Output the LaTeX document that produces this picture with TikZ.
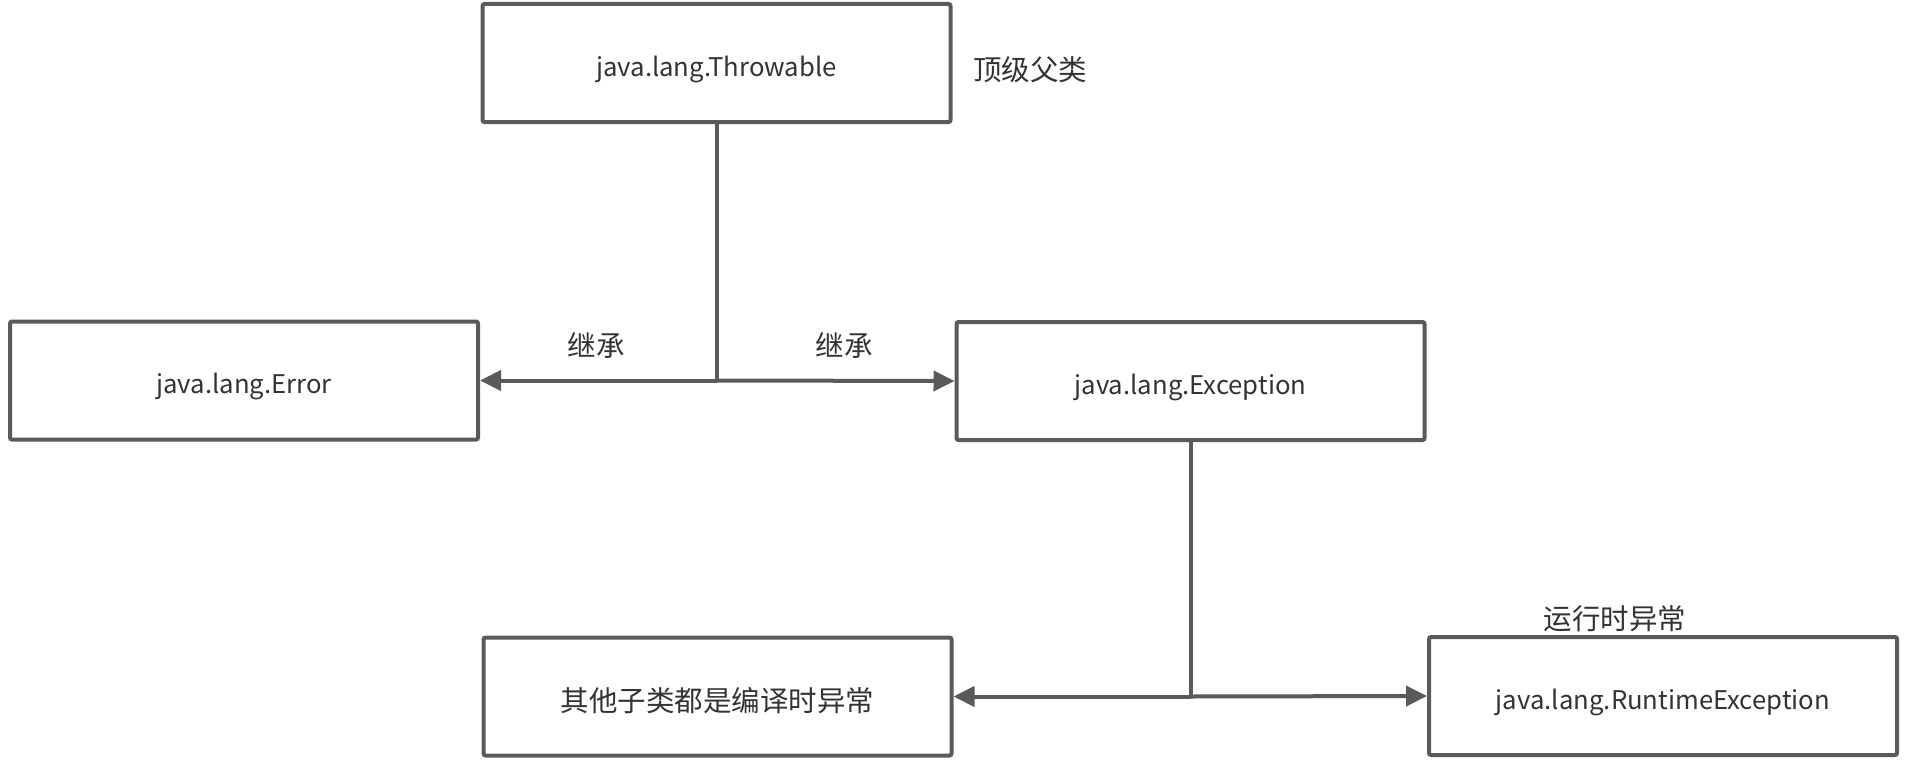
\documentclass[tikz,border=0pt]{standalone}
\usepackage{fontspec}
\setmainfont{Noto Sans CJK SC}
\usetikzlibrary{arrows.meta}
\definecolor{edge}{HTML}{5A5A5A}
\definecolor{txt}{HTML}{333333}
\begin{document}
\begin{tikzpicture}[x=1pt,y=-1pt,
  box/.style={draw=edge,line width=4pt,rounded corners=2pt,fill=white,
    minimum width=468pt,minimum height=118pt,inner sep=0pt,
    text height=26pt,text depth=0pt,
    text=txt,font=\fontsize{25.7}{30}\selectfont},
  cjkbox/.style={box,text height=30pt,font=\fontsize{28.5}{32}\selectfont},
  lbl/.style={text=txt,inner sep=0pt,font=\fontsize{28.5}{32}\selectfont},
  conn/.style={draw=edge,line width=4pt},
  arr/.style={conn,-{Triangle[length=21pt,width=20pt]}}]
\useasboundingbox (0,0) rectangle (1908,760);
\node[box] (thr) at (716.5,63) {java.lang.Throwable};
\node[box] (err) at (244,380.5) {java.lang.Error};
\node[box] (exc) at (1190.5,381) {java.lang.Exception};
\node[cjkbox] (oth) at (717.5,696.5) {其他子类都是编译时异常};
\node[box] (rte) at (1663,696) {java.lang.RuntimeException};
\node[lbl] (top) at (1030,70) {顶级父类};
\node[lbl] (inh1) at (596,345) {继承};
\node[lbl] (inh2) at (844,345) {继承};
\node[lbl] (rtl) at (1615,619) {运行时异常};
\coordinate (j1) at (thr.south |- err.east);
\coordinate (j2) at (exc.south |- oth.east);
\draw[conn] (thr.south) -- (j1);
\draw[arr] (j1) -- (err.east);
\draw[arr] (j1) -- (exc.west);
\draw[conn] (exc.south) -- (j2);
\draw[arr] (j2) -- (oth.east);
\draw[arr] (j2) -- (rte.west);
\end{tikzpicture}
\end{document}
